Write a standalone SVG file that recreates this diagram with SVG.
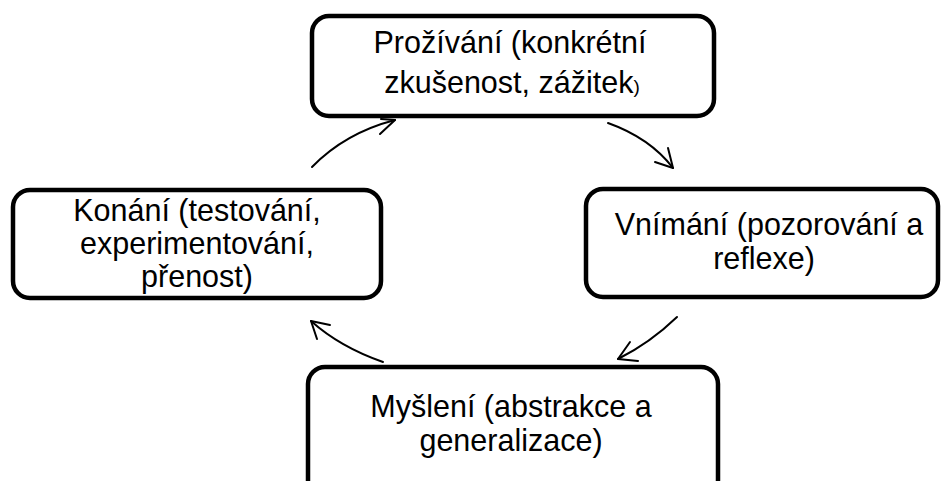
<svg xmlns="http://www.w3.org/2000/svg" width="944" height="481" viewBox="0 0 944 481">
<style>
.box{fill:#fff;stroke:#000;stroke-width:4.5}
.t{font-family:"Liberation Sans",Arial,sans-serif;font-size:30.5px;fill:#000;text-anchor:middle}
.c{fill:none;stroke:#000;stroke-width:2;stroke-linecap:round;stroke-linejoin:round}
</style>
<rect width="944" height="481" fill="#fff"/>
<g id="node-prozivani">
<rect class="box" x="312" y="16" width="402" height="100" rx="17"/>
<text class="t" x="510" y="53">Prožívání (konkrétní</text>
<text class="t" x="512" y="93">zkušenost, zážitek<tspan font-size="19">)</tspan></text>
</g>
<g id="node-vnimani">
<rect class="box" x="586" y="189" width="352" height="108" rx="17"/>
<text class="t" x="769" y="235">Vnímání (pozorování a</text>
<text class="t" x="764" y="269">reflexe)</text>
</g>
<g id="node-mysleni">
<rect class="box" x="308" y="367" width="410" height="130" rx="17"/>
<text class="t" x="511" y="417">Myšlení (abstrakce a</text>
<text class="t" x="511" y="451">generalizace)</text>
</g>
<g id="node-konani">
<rect class="box" x="13" y="190" width="368" height="108" rx="17"/>
<text class="t" x="197" y="221">Konání (testování,</text>
<text class="t" x="197" y="254">experimentování,</text>
<text class="t" x="197" y="287">přenost)</text>
</g>
<g id="connectors">
<path class="c" d="M312,167 Q345,133 395,120"/>
<path class="c" d="M380,134 L395,120 L381,119"/>
<path class="c" d="M608,123 Q650,138 673,168"/>
<path class="c" d="M655,162 L673,168 L668,148"/>
<path class="c" d="M677,317 Q650,343 618,359"/>
<path class="c" d="M630,342 L618,359 L638,361"/>
<path class="c" d="M383,362 Q340,347 311,321"/>
<path class="c" d="M330,325 L311,321 L317,339"/>
</g>
</svg>
